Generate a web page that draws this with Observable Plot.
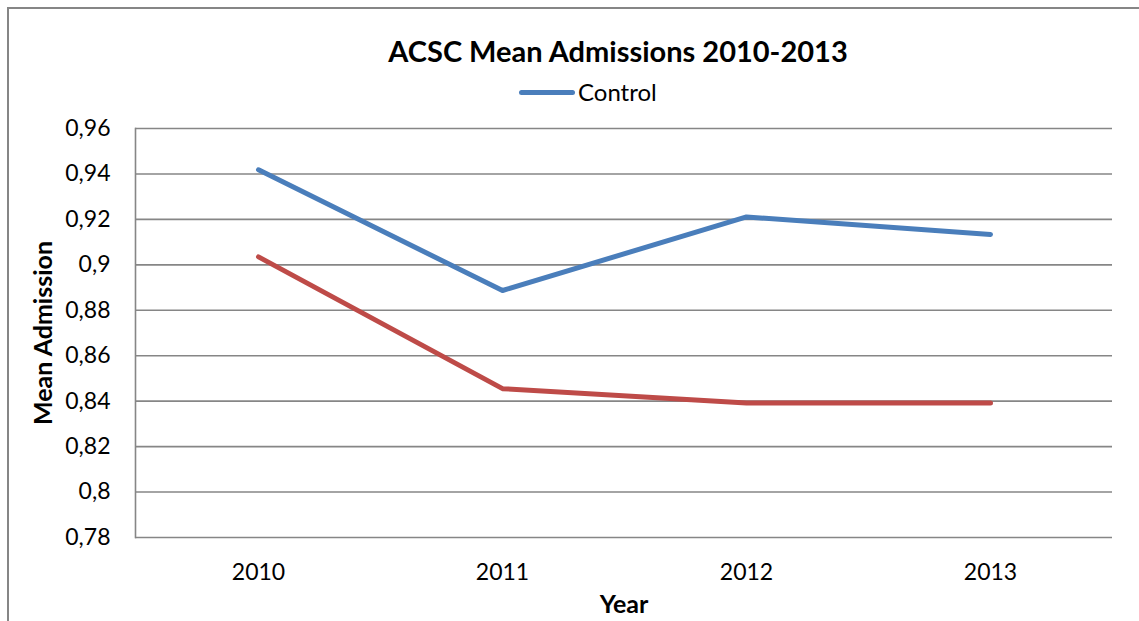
<!DOCTYPE html>
<html>
<head>
<meta charset="utf-8">
<script src="https://cdn.jsdelivr.net/npm/d3@7"></script>
<script src="https://cdn.jsdelivr.net/npm/@observablehq/plot@0.6"></script>
<style>
  html, body { margin: 0; padding: 0; background: #fff; }
  #wrap { position: relative; width: 1139px; height: 621px; overflow: hidden; font-family: Lato, "Open Sans", sans-serif; }
  #border { position: absolute; left: 7px; top: 7px; width: 1200px; height: 700px;
            border-left: 2px solid #868686; border-top: 2px solid #868686; }
  #title { position: absolute; left: 0; width: 1236px; top: 34px; text-align: center;
           font-size: 29px; line-height: 34px; font-weight: bold; color: #000; }
  #legend { position: absolute; left: 519px; top: 78px; height: 28px; display: flex; align-items: center;
            font-size: 24px; line-height: 28px; color: #000; }
  #legend .sw { width: 56px; height: 5px; background: #4a7ebb; border-radius: 3px; margin-right: 3px; }
  #chart { position: absolute; left: 0; top: 0; }
</style>
</head>
<body>
<div id="wrap">
  <div id="chart"></div>
  <div id="border"></div>
  <div id="title"></div>
  <div id="legend"><div class="sw"></div><span id="legend-label"></span></div>
</div>
<script>
// Mean ACSC admissions per year
const years = ["2010", "2011", "2012", "2013"];
const control = [0.9418, 0.8887, 0.9211, 0.9134];
const intervention = [0.9035, 0.8455, 0.8392, 0.8392];
const yTicks = [0.78, 0.80, 0.82, 0.84, 0.86, 0.88, 0.90, 0.92, 0.94, 0.96];
const seriesNames = ["Control", "Intervention"];
const seriesColors = ["#4a7ebb", "#be4b48"];
const titleText = "ACSC Mean Admissions 2010-2013";
const xLabel = "Year";
const yLabel = "Mean Admission";

document.getElementById("title").textContent = titleText;
document.getElementById("legend-label").textContent = seriesNames[0];

const rows = [
  ...years.map((y, i) => ({year: y, value: control[i], series: seriesNames[0]})),
  ...years.map((y, i) => ({year: y, value: intervention[i], series: seriesNames[1]}))
];

const commaFmt = d => String(+d.toFixed(2)).replace(".", ",");
const font = "Lato, 'Open Sans', sans-serif";

const chart = Plot.plot({
  width: 1139,
  height: 621,
  marginLeft: 135,
  marginRight: 27,
  marginTop: 128,
  marginBottom: 84,
  style: {fontFamily: font, background: "transparent", color: "#000"},
  x: {type: "point", domain: years, padding: 0.5},
  y: {domain: [0.78, 0.96]},
  color: {domain: seriesNames, range: seriesColors},
  marks: [
    Plot.ruleY(yTicks, {stroke: "#868686", strokeWidth: 1.6, strokeOpacity: 1}),
    Plot.frame({anchor: "left", stroke: "#868686", strokeWidth: 1.6}),
    Plot.axisY({ticks: yTicks, tickFormat: commaFmt, tickSize: 0, tickPadding: 25,
                fontSize: 23, label: null}),
    Plot.axisX({tickSize: 0, tickPadding: 26, fontSize: 23, label: null}),
    Plot.lineY(rows, {x: "year", y: "value", z: "series", stroke: "series",
                      strokeWidth: 5, strokeLinecap: "round", strokeLinejoin: "round"}),
    Plot.text([yLabel], {frameAnchor: "left", dx: -92, rotate: -90, textAnchor: "middle",
                         fontSize: 25, fontWeight: "bold", fill: "#000"}),
    Plot.text([xLabel], {frameAnchor: "bottom", dy: 75, fontSize: 25,
                         fontWeight: "bold", fill: "#000"})
  ]
});
document.getElementById("chart").appendChild(chart);
</script>
</body>
</html>
